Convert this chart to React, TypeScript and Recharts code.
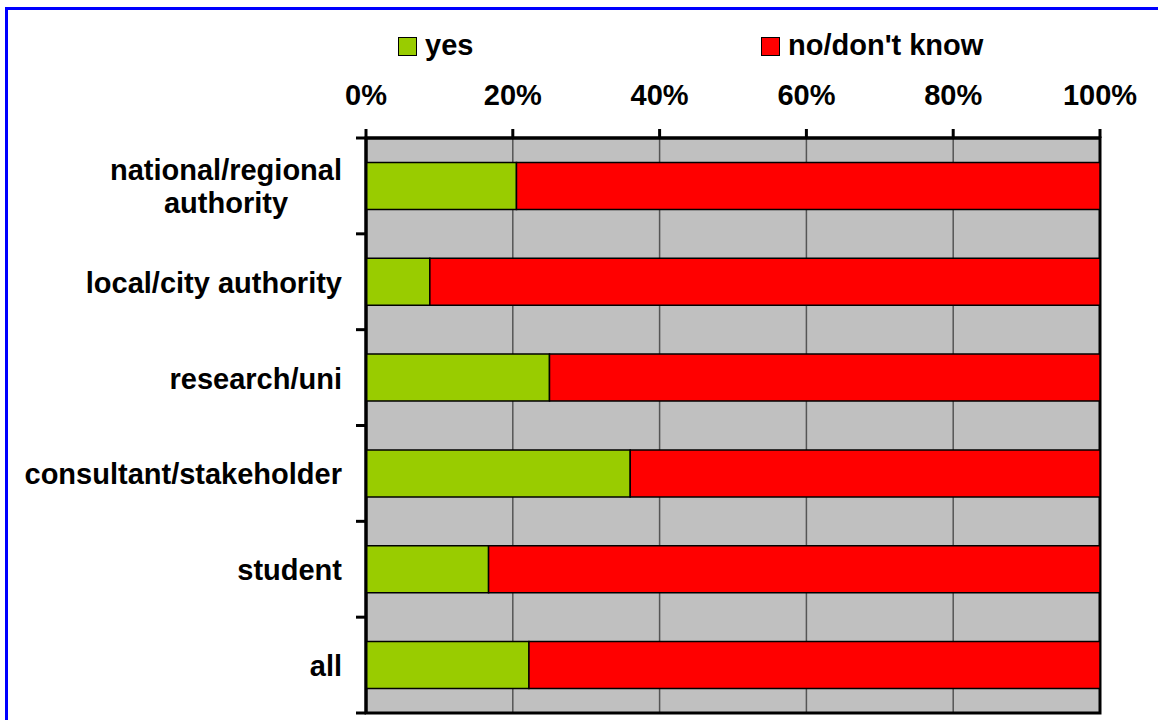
import React from 'react';
import * as Recharts from 'recharts';
import {
  BarChart,
  Bar,
  XAxis,
  YAxis,
  CartesianGrid,
  Legend,
} from 'recharts';

// Respondent groups (top to bottom) and the share answering "yes", in percent
const categories = [
  'national/regional\nauthority',
  'local/city authority',
  'research/uni',
  'consultant/stakeholder',
  'student',
  'all',
];
const yesShare = [20.5, 8.7, 25.0, 36.0, 16.7, 22.2];
const percentTicks = [0, 20, 40, 60, 80, 100];

const seriesNames = ['yes', "no/don't know"];

const data = categories.map((name, i) => ({
  name,
  yes: yesShare[i],
  no: +(100 - yesShare[i]).toFixed(1),
}));

const WIDTH = 1158;
const HEIGHT = 720;
const MARGIN = { top: 0, right: 58, bottom: 7, left: 0 };
const Y_AXIS_WIDTH = 366;
const X_AXIS_HEIGHT = 138;
const PLOT_LEFT = MARGIN.left + Y_AXIS_WIDTH;
const PLOT_TOP = MARGIN.top + X_AXIS_HEIGHT;
const PLOT_WIDTH = WIDTH - PLOT_LEFT - MARGIN.right;
const PLOT_HEIGHT = HEIGHT - PLOT_TOP - MARGIN.bottom;

const FONT = "Arial, 'Liberation Sans', Helvetica, sans-serif";
const FONT_SIZE = 29;
const GREEN = '#99CC00';
const RED = '#FF0000';
const PLOT_BG = '#C0C0C0';
const FRAME = { stroke: '#000', strokeWidth: 3 };

let measureCtx: CanvasRenderingContext2D | null = null;
function textWidth(text: string): number {
  if (!measureCtx) {
    measureCtx = document.createElement('canvas').getContext('2d');
  }
  if (!measureCtx) return text.length * FONT_SIZE * 0.55;
  measureCtx.font = `bold ${FONT_SIZE}px ${FONT}`;
  return measureCtx.measureText(text).width;
}

const usePlotAreaHook: (() => any) | undefined = (Recharts as any).usePlotArea;
const fallbackArea = () => ({
  x: PLOT_LEFT,
  y: PLOT_TOP,
  width: PLOT_WIDTH,
  height: PLOT_HEIGHT,
});
const useArea = usePlotAreaHook ?? fallbackArea;

// Black frame drawn around the plot area
const PlotFrame = () => {
  const area = useArea() || fallbackArea();
  return (
    <rect
      x={area.x}
      y={area.y}
      width={area.width}
      height={area.height}
      fill="none"
      {...FRAME}
    />
  );
};

// Category label plus the short tick marks that sit on the band boundaries
const CategoryTick = (props: any) => {
  const { y, payload, index } = props;
  const half =
    payload && typeof payload.offset === 'number' && payload.offset > 0
      ? payload.offset
      : PLOT_HEIGHT / categories.length / 2;
  const lines = String(payload.value).split('\n');
  const right = PLOT_LEFT - 24;
  const lineHeight = 33;
  const firstBaseline = y + 11 - ((lines.length - 1) * lineHeight) / 2;
  const maxW = Math.max(...lines.map(textWidth));
  const multi = lines.length > 1;
  return (
    <g>
      <line
        x1={PLOT_LEFT - 10}
        x2={PLOT_LEFT}
        y1={y - half}
        y2={y - half}
        {...FRAME}
      />
      {index === categories.length - 1 && (
        <line
          x1={PLOT_LEFT - 10}
          x2={PLOT_LEFT}
          y1={y + half}
          y2={y + half}
          {...FRAME}
        />
      )}
      <text
        fontFamily={FONT}
        fontSize={FONT_SIZE}
        fontWeight="bold"
        fill="#000"
        textAnchor={multi ? 'middle' : 'end'}
      >
        {lines.map((ln, i) => (
          <tspan
            key={i}
            x={multi ? right - maxW / 2 : right}
            y={firstBaseline + i * lineHeight}
          >
            {ln}
          </tspan>
        ))}
      </text>
    </g>
  );
};

const PercentTick = (props: any) => {
  const { x, payload } = props;
  return (
    <text
      x={x}
      y={105}
      fontFamily={FONT}
      fontSize={FONT_SIZE}
      fontWeight="bold"
      fill="#000"
      textAnchor="middle"
    >
      {`${payload.value}%`}
    </text>
  );
};

const legendLeft = [398, 761];

const LegendContent = (props: any) => {
  const raw = (props.payload || []) as any[];
  const items = seriesNames
    .map((n) => raw.find((p) => p.value === n))
    .filter(Boolean) as any[];
  return (
    <div style={{ position: 'relative', width: WIDTH, height: 40 }}>
      {items.map((item, i) => (
        <div
          key={item.value}
          style={{ position: 'absolute', left: legendLeft[i], top: 0, height: 40 }}
        >
          <div
            style={{
              position: 'absolute',
              left: 0,
              top: 7,
              width: 17,
              height: 17,
              background: item.color,
              border: '1px solid #000',
            }}
          />
          <div
            style={{
              position: 'absolute',
              left: 27,
              top: -1,
              whiteSpace: 'nowrap',
              fontFamily: FONT,
              fontSize: FONT_SIZE,
              fontWeight: 'bold',
              lineHeight: '33px',
              color: '#000',
            }}
          >
            {item.value}
          </div>
        </div>
      ))}
    </div>
  );
};

export default function App() {
  return (
    <div
      style={{
        position: 'absolute',
        left: 0,
        top: 0,
        width: WIDTH,
        height: HEIGHT,
        overflow: 'hidden',
        background: '#fff',
      }}
    >
      <div
        style={{
          position: 'absolute',
          left: 5,
          top: 7,
          width: WIDTH + 100,
          height: HEIGHT + 100,
          border: '3px solid #0000FF',
          boxSizing: 'border-box',
        }}
      />
      <div style={{ position: 'absolute', left: 0, top: 0 }}>
        <BarChart
          width={WIDTH}
          height={HEIGHT}
          data={data}
          layout="vertical"
          margin={MARGIN}
          barCategoryGap="25.5%"
        >
          <CartesianGrid
            horizontal={false}
            vertical={true}
            fill={PLOT_BG}
            fillOpacity={1}
            stroke="#555"
            strokeWidth={1.5}
          />
          <XAxis
            type="number"
            orientation="top"
            domain={[0, 100]}
            ticks={percentTicks}
            height={X_AXIS_HEIGHT}
            axisLine={FRAME}
            tickLine={FRAME}
            tickSize={9}
            tick={<PercentTick />}
            interval={0}
          />
          <YAxis
            type="category"
            dataKey="name"
            width={Y_AXIS_WIDTH}
            axisLine={FRAME}
            tickLine={false}
            tick={<CategoryTick />}
            interval={0}
          />
          <Legend
            layout="horizontal"
            verticalAlign="middle"
            align="center"
            wrapperStyle={{ top: 30, left: 0, width: WIDTH, height: 40 }}
            content={<LegendContent />}
          />
          <Bar
            dataKey="yes"
            name={seriesNames[0]}
            stackId="s"
            fill={GREEN}
            stroke="#000"
            strokeWidth={1.5}
            isAnimationActive={false}
          />
          <Bar
            dataKey="no"
            name={seriesNames[1]}
            stackId="s"
            fill={RED}
            stroke="#000"
            strokeWidth={1.5}
            isAnimationActive={false}
          />
          <PlotFrame />
        </BarChart>
      </div>
    </div>
  );
}
